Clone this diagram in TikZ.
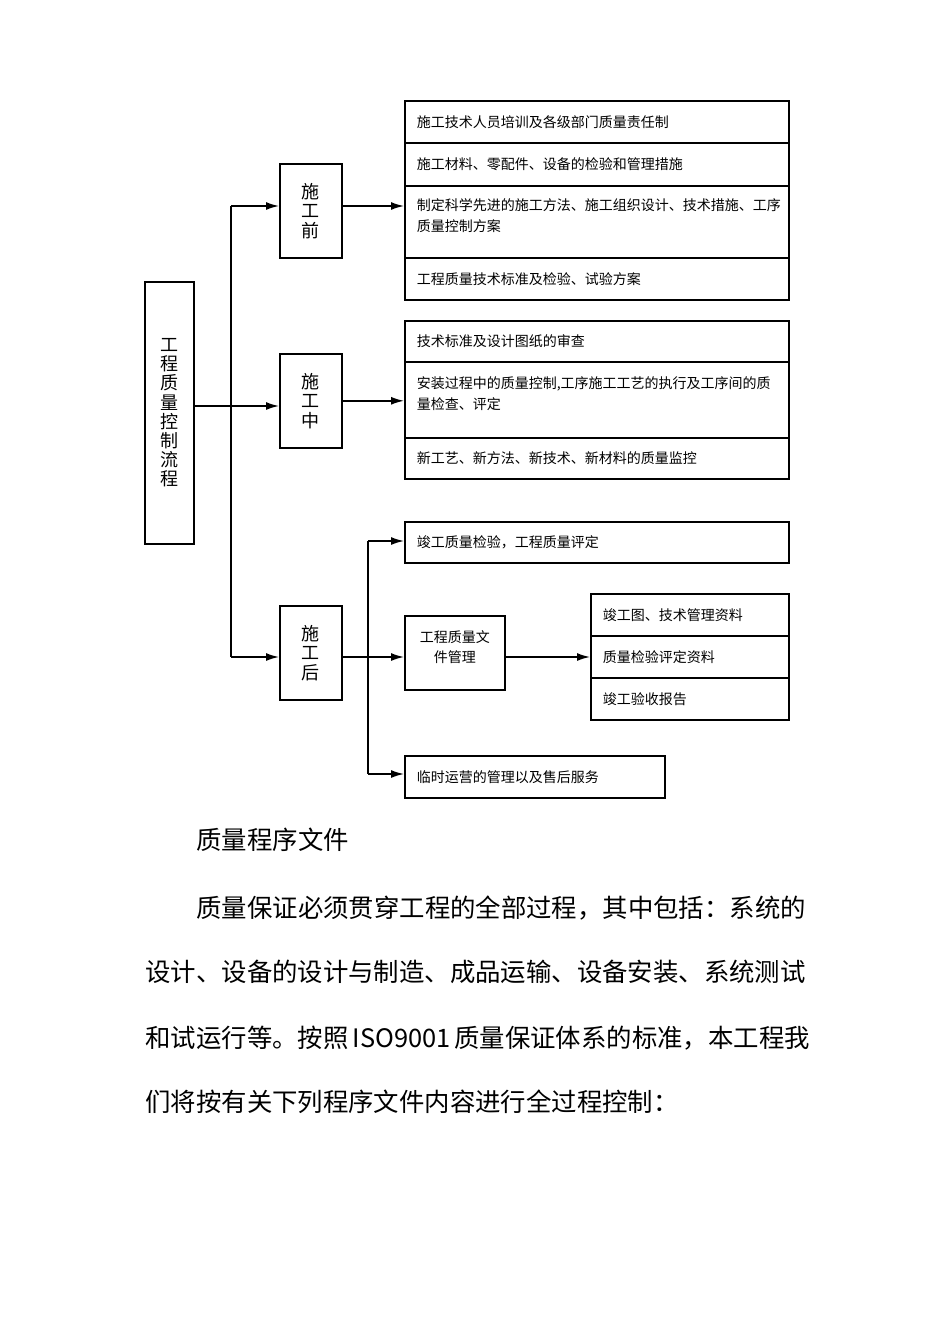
\documentclass[tikz,border=0pt]{standalone}
\usepackage{fontspec}
\newfontfamily\cjk{Noto Sans CJK SC}
\usetikzlibrary{positioning,arrows.meta}
\tikzset{
  box/.style={draw=black,line width=0.8pt,anchor=north west,inner sep=0pt},
  stage/.style={box,minimum width=31pt,minimum height=47pt,align=center,
    font=\cjk\fontsize{9pt}{9.7pt}\selectfont},
  cell/.style 2 args={box,text width=180pt,inner xsep=6pt,inner ysep=0pt,align=left,
    text height=#1,text depth=#2,font=\cjk\fontsize{7pt}{10.5pt}\selectfont},
  body/.style={anchor=west,inner sep=0pt,text height=11.2pt,text depth=1.5pt,
    font=\cjk\fontsize{12.7pt}{15pt}\selectfont},
  flow/.style={draw=black,line width=0.8pt},
  arrow/.style={flow,-{Latex[length=6.5pt,width=4pt]}}
}
\begin{document}
\begin{tikzpicture}[x=0.5pt,y=-0.5pt]
  \useasboundingbox (0,0) rectangle (950,1344);
  \node[box,minimum width=24.5pt,minimum height=131pt,align=center,
    font=\cjk\fontsize{9pt}{9.6pt}\selectfont] (main) at (144,281) {工\\程\\质\\量\\控\\制\\流\\程};
  \node[stage] (pre) at (279,163) {施\\工\\前};
  \node[stage] (mid) at (279,353) {施\\工\\中};
  \node[stage] (post) at (279,605) {施\\工\\后};

  \node[cell={13.2pt}{7.8pt}] (pre1) at (404,100) {施工技术人员培训及各级部门质量责任制};
  \node[cell={13.4pt}{8.1pt}] (pre2) at (404,142) {施工材料、零配件、设备的检验和管理措施};
  \node[cell={12.4pt}{23.6pt}] (pre3) at (404,185) {制定科学先进的施工方法、施工组织设计、技术措施、工序\\质量控制方案};
  \node[cell={13.2pt}{7.8pt}] (pre4) at (404,257) {工程质量技术标准及检验、试验方案};

  \node[cell={12.9pt}{7.6pt}] (mid1) at (404,320) {技术标准及设计图纸的审查};
  \node[cell={13.2pt}{24.8pt}] (mid2) at (404,361) {安装过程中的质量控制,工序施工工艺的执行及工序间的质\\量检查、评定};
  \node[cell={12.9pt}{7.6pt}] (mid3) at (404,437) {新工艺、新方法、新技术、新材料的质量监控};

  \node[cell={12.9pt}{7.6pt}] (done) at (404,521) {竣工质量检验，工程质量评定};
  \node[box,minimum width=50pt,minimum height=37pt] (docs) at (404,615) {};
  \node[align=center,inner sep=0pt,font=\cjk\fontsize{7pt}{10pt}\selectfont]
    at ([yshift=3pt]docs.center) {工程质量文\\件管理};
  \node[cell={13.2pt}{7.8pt},text width=87pt] (doc1) at (590,593) {竣工图、技术管理资料};
  \node[cell={13.2pt}{7.8pt},text width=87pt] (doc2) at (590,635) {质量检验评定资料};
  \node[cell={13.2pt}{7.8pt},text width=87pt] (doc3) at (590,677) {竣工验收报告};
  \node[cell={13.2pt}{7.8pt},text width=118pt] (serv) at (404,755) {临时运营的管理以及售后服务};

  \coordinate (t1) at (231,206);
  \coordinate (t2) at (231,406);
  \coordinate (t3) at (231,657);
  \coordinate (b1) at (368,541);
  \coordinate (b2) at (368,774);
  \draw[flow] (t1) -- (t3);
  \draw[arrow] (t1) -- (pre.west |- t1);
  \draw[arrow] (main.east |- t2) -- (mid.west |- t2);
  \draw[arrow] (t3) -- (post.west |- t3);
  \draw[arrow] (pre.east |- t1) -- (pre3.west |- t1);
  \draw[arrow] (mid.east) -- (mid2.west |- mid.east);
  \draw[flow] (b1) -- (b2);
  \draw[arrow] (b1) -- (done.west |- b1);
  \draw[arrow] (b2) -- (serv.west |- b2);
  \draw[arrow] (post.east |- t3) -- (docs.west |- t3);
  \draw[arrow] (docs.east |- t3) -- (doc2.west |- t3);

  \node[body] (title) at (196,840) {质量程序文件};
  \node[body] (line1) at (196,908) {质量保证必须贯穿工程的全部过程，其中包括：系统的};
  \node[body] (line2) at (145,972) {设计、设备的设计与制造、成品运输、设备安装、系统测试};
  \node[body] (line3) at (145,1038) {和试运行等。按照\hspace{2pt}ISO9001\hspace{2pt}质量保证体系的标准，本工程我};
  \node[body] (line4) at (145,1102) {们将按有关下列程序文件内容进行全过程控制：};
\end{tikzpicture}
\end{document}
